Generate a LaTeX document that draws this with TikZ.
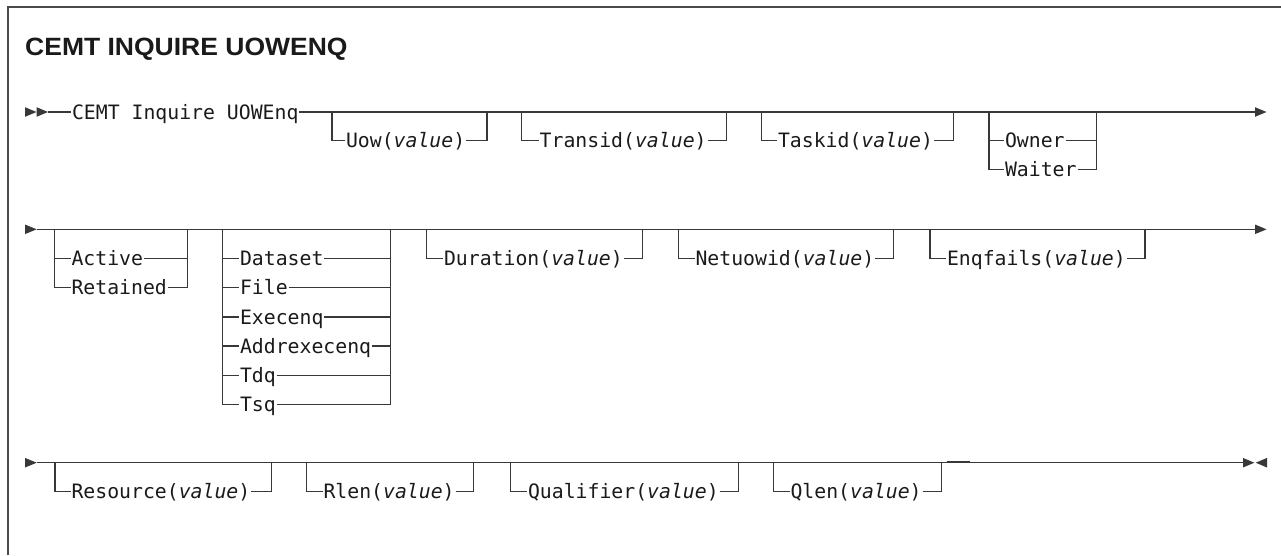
\documentclass[tikz,border=0pt]{standalone}
\usepackage{fontspec}
\usepackage{graphicx}
\setmainfont{Liberation Sans}
\newfontfamily\railmono{DejaVu Sans Mono}[ItalicFont={DejaVu Sans Mono Oblique}]
\definecolor{rail}{HTML}{383838}
\definecolor{ink}{HTML}{1A1A1A}
\definecolor{framec}{HTML}{4A4A4A}
\tikzset{
  railtxt/.style={inner xsep=0.8pt, inner ysep=0pt, anchor=west, text height=14.3pt, text depth=0pt,
    font=\railmono\fontsize{19.8}{22}\selectfont, text=ink},
  railline/.style={draw=rail, line width=1.3pt},
  titletxt/.style={anchor=base west, inner sep=0pt, text=ink, font=\bfseries\fontsize{25}{29}\selectfont},
}
% optional item: name, left x, text x, right x, main y, branch y, text
\newcommand\railopt[7]{%
  \coordinate (#1-l) at (#2,#5);
  \coordinate (#1-r) at (#4,#5);
  \node[railtxt] (#1) at (#3,#6) {#7};
  \draw[railline] (#1-l) |- (#1.west);
  \draw[railline] (#1.east) -| (#1-r);
}
% further alternative in a group: name, group name, text x, branch y, text
\newcommand\railalt[5]{%
  \node[railtxt] (#1) at (#3,#4) {#5};
  \draw[railline] (#2-l) |- (#1.west);
  \draw[railline] (#1.east) -| (#2-r);
}
% triangle: x, y, signed length
\newcommand\railtri[3]{\fill[rail] (#1,#2-4.8) -- (#1+#3,#2) -- (#1,#2+4.8) -- cycle;}
\newcommand\val{{\itshape value}}
\begin{document}
\begin{tikzpicture}[x=1pt,y=-1pt]
\useasboundingbox (0,0) rectangle (1281,555);
% frame
\draw[framec, line width=1.5pt] (8,555) -- (8,7) -- (1281,7);
% title
\node[titletxt] (title) at (25,55) {\scalebox{1.06}[1]{CEMT INQUIRE UOWENQ}};

% ---------- row 1 ----------
\railtri{25}{112}{11.5}
\railtri{36.5}{112}{11.5}
\coordinate (r1a) at (48,112);
\node[railtxt] (cemt) at (71,112) {CEMT Inquire UOWEnq};
\coordinate (r1z) at (1255,112);
\draw[railline] (r1a) -- (cemt.west);
\draw[railline] (cemt.east) -- (r1z);
\railtri{1255}{112}{11.5}
\railopt{uow}{332}{345}{487}{112}{140.5}{Uow(\val)}
\railopt{transid}{521.7}{538.7}{726.7}{112}{140.5}{Transid(\val)}
\railopt{taskid}{761.7}{777}{953.3}{112}{140.5}{Taskid(\val)}
\railopt{owner}{989}{1004}{1096.7}{112}{140.5}{Owner}
\railalt{waiter}{owner}{1004}{169.3}{Waiter}

% ---------- row 2 ----------
\railtri{25}{229.3}{11.7}
\coordinate (r2a) at (36.7,229.3);
\coordinate (r2z) at (1255,229.3);
\draw[railline] (r2a) -- (r2z);
\railtri{1255}{229.3}{11.5}
\railopt{active}{54.3}{70.5}{187.3}{229.3}{258.5}{Active}
\railalt{retained}{active}{70.5}{287.7}{Retained}
\railopt{dataset}{222.7}{239}{390.7}{229.3}{258.5}{Dataset}
\railalt{file}{dataset}{239}{287.7}{File}
\railalt{execenq}{dataset}{239}{316.9}{Execenq}
\railalt{addrexecenq}{dataset}{239}{346.1}{Addrexecenq}
\railalt{tdq}{dataset}{239}{375.3}{Tdq}
\railalt{tsq}{dataset}{239}{404.5}{Tsq}
\railopt{duration}{426.7}{443}{642.7}{229.3}{258.5}{Duration(\val)}
\railopt{netuowid}{678.3}{694.5}{893.3}{229.3}{258.5}{Netuowid(\val)}
\railopt{enqfails}{930}{946}{1145}{229.3}{258.5}{Enqfails(\val)}

% ---------- row 3 ----------
\railtri{25}{462.7}{11.7}
\coordinate (r3a) at (36.7,462.7);
\coordinate (r3z) at (1243,462.7);
\draw[railline] (r3a) -- (r3z);
\railtri{1243}{462.7}{11.3}
\railtri{1267}{462.7}{-11.3}
\railopt{resource}{55}{70.5}{271.7}{462.7}{491.7}{Resource(\val)}
\railopt{rlen}{306.7}{322.5}{473.3}{462.7}{491.7}{Rlen(\val)}
\railopt{qualifier}{510.7}{527}{738.3}{462.7}{491.7}{Qualifier(\val)}
\railopt{qlen}{773.3}{789.5}{941.7}{462.7}{491.7}{Qlen(\val)}
\coordinate (thka) at (946.7,462.4);
\coordinate (thkb) at (970,462.4);
\draw[rail, line width=2pt] (thka) -- (thkb);
\end{tikzpicture}
\end{document}
